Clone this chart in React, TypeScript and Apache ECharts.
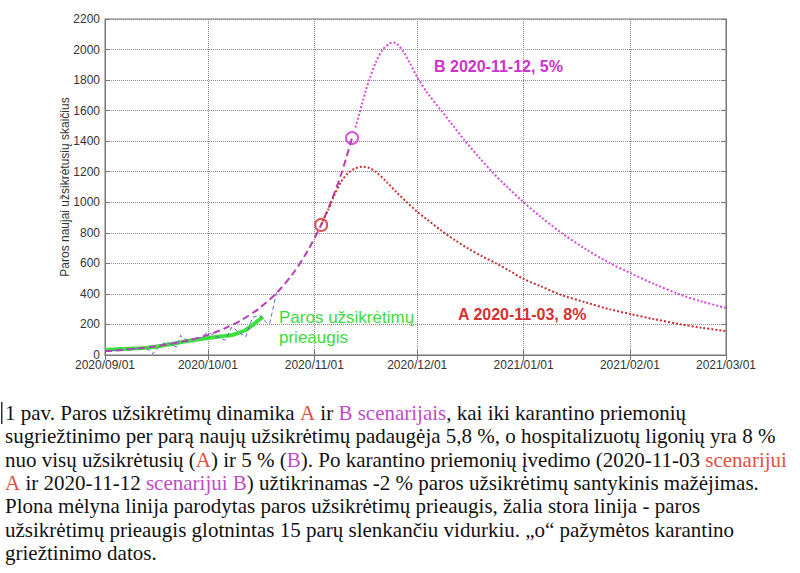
import React, { useEffect, useRef } from 'react';
import * as echarts from 'echarts';

// ---- axis range / ticks ----
const startDate = '2020-09-01';
const endDate = '2021-03-01';
const yMin = 0;
const yMax = 2200;
const yStep = 200;

// ---- thin blue dashed: daily new infections (raw) ----
const rawDates = ['2020-09-01', '2020-09-03', '2020-09-05', '2020-09-07', '2020-09-09', '2020-09-11', '2020-09-13', '2020-09-15', '2020-09-16', '2020-09-18', '2020-09-19', '2020-09-20', '2020-09-22', '2020-09-23', '2020-09-24', '2020-09-25', '2020-09-27', '2020-09-29', '2020-10-01', '2020-10-03', '2020-10-06', '2020-10-08', '2020-10-10', '2020-10-12', '2020-10-14', '2020-10-16', '2020-10-18', '2020-10-19', '2020-10-21'];
const rawValues = [28, 30, 34, 36, 40, 42, 48, 8, 35, 75, 88, 70, 52, 128, 110, 95, 105, 115, 150, 125, 98, 184, 150, 118, 245, 262, 212, 205, 410];

// ---- thick green: 15-day moving average ----
const maDates = ['2020-09-01', '2020-09-04', '2020-09-08', '2020-09-12', '2020-09-15', '2020-09-18', '2020-09-22', '2020-09-26', '2020-10-01', '2020-10-05', '2020-10-08', '2020-10-10', '2020-10-12', '2020-10-14', '2020-10-16', '2020-10-17'];
const maValues = [35, 37, 41, 45, 52, 63, 79, 95, 112, 123, 131, 145, 164, 195, 232, 250];

// ---- magenta dashed: growth before quarantine ----
const growDates = ['2020-09-01', '2020-09-06', '2020-09-11', '2020-09-16', '2020-09-21', '2020-09-26', '2020-10-01', '2020-10-06', '2020-10-11', '2020-10-16', '2020-10-21', '2020-10-26', '2020-10-30', '2020-11-03', '2020-11-06', '2020-11-09', '2020-11-12'];
const growValues = [25, 33, 44, 58, 77, 100, 132, 175, 232, 307, 405, 540, 680, 852, 1010, 1195, 1421];

// ---- scenario A (red dotted) ----
const aDates = ['2020-11-03', '2020-11-05', '2020-11-07', '2020-11-09', '2020-11-11', '2020-11-13', '2020-11-15', '2020-11-17', '2020-11-19', '2020-11-22', '2020-11-25', '2020-11-28', '2020-12-01', '2020-12-04', '2020-12-08', '2020-12-12', '2020-12-16', '2020-12-20', '2020-12-24', '2020-12-28', '2021-01-01', '2021-01-06', '2021-01-12', '2021-01-19', '2021-01-26', '2021-02-01', '2021-02-08', '2021-02-16', '2021-02-22', '2021-03-01'];
const aValues = [852, 950, 1055, 1140, 1195, 1222, 1233, 1225, 1198, 1135, 1065, 1000, 938, 885, 815, 752, 695, 645, 600, 550, 498, 450, 393, 345, 300, 269, 235, 200, 178, 157];

// ---- scenario B (magenta dotted) ----
const bDates = ['2020-11-13', '2020-11-14', '2020-11-15', '2020-11-16', '2020-11-17', '2020-11-19', '2020-11-21', '2020-11-23', '2020-11-24', '2020-11-25', '2020-11-27', '2020-11-29', '2020-12-01', '2020-12-04', '2020-12-08', '2020-12-11', '2020-12-15', '2020-12-19', '2020-12-23', '2020-12-27', '2021-01-01', '2021-01-06', '2021-01-12', '2021-01-19', '2021-01-26', '2021-02-01', '2021-02-08', '2021-02-16', '2021-02-22', '2021-03-01'];
const bValues = [1490, 1570, 1650, 1730, 1800, 1920, 2000, 2040, 2046, 2040, 1985, 1905, 1820, 1715, 1600, 1515, 1400, 1295, 1195, 1105, 1000, 905, 800, 695, 603, 538, 465, 393, 350, 308];

// ---- quarantine dates ("o") ----
const quarantineA = ['2020-11-03', 852];
const quarantineB = ['2020-11-12', 1421];

// ---- texts ----
const yAxisName = 'Paros naujai užsikrėtusių skaičius';
const labelB = 'B 2020-11-12, 5%';
const labelA = 'A 2020-11-03, 8%';
const labelGreen = ['Paros užsikrėtimų', 'prieaugis'];
const captionLines = [
  '1 pav. Paros užsikrėtimų dinamika {r|A} ir {p|B scenarijais}, kai iki karantino priemonių',
  'sugriežtinimo per parą naujų užsikrėtimų padaugėja 5,8 %, o hospitalizuotų ligonių yra 8 %',
  'nuo visų užsikrėtusių ({r|A}) ir 5 % ({p|B}). Po karantino priemonių įvedimo (2020-11-03 {r|scenarijui}',
  '{r|A} ir 2020-11-12 {p|scenarijui B}) užtikrinamas -2 % paros užsikrėtimų santykinis mažėjimas.',
  'Plona mėlyna linija parodytas paros užsikrėtimų prieaugis, žalia stora linija - paros',
  'užsikrėtimų prieaugis glotnintas 15 parų slenkančiu vidurkiu. „o“ pažymėtos karantino',
  'griežtinimo datos.',
];

function buildDays(start: string, end: string): string[] {
  const out: string[] = [];
  const d = new Date(start + 'T00:00:00Z');
  const e = new Date(end + 'T00:00:00Z');
  while (d.getTime() <= e.getTime()) {
    out.push(d.toISOString().slice(0, 10));
    d.setUTCDate(d.getUTCDate() + 1);
  }
  return out;
}

const zip = (xs: string[], ys: number[]) => xs.map((x, i) => [x, ys[i]]);

export default function App() {
  const ref = useRef<HTMLDivElement>(null);

  useEffect(() => {
    if (!ref.current) return;
    const chart = echarts.init(ref.current, null, { renderer: 'svg' });
    const days = buildDays(startDate, endDate);
    const isMonthStart = (_i: number, v: string) => String(v).slice(8) === '01';
    const sans = 'Arial, Liberation Sans, sans-serif';
    const serif = 'Liberation Serif, Times New Roman, serif';
    const capSize = 21;
    const gridLine = { show: true, lineStyle: { color: '#8a8a8a', type: 'dotted' as const, width: 1 } };

    const captionRich = {
      r: { fill: '#e4503e', fontSize: capSize, fontFamily: serif },
      p: { fill: '#c04cc8', fontSize: capSize, fontFamily: serif },
    };

    const option: any = {
      animation: false,
      backgroundColor: '#ffffff',
      grid: {
        left: 105,
        right: 74,
        top: 19,
        bottom: 218,
        show: true,
        borderColor: '#777',
        borderWidth: 1,
      },
      xAxis: [
        {
          type: 'category',
          data: days,
          boundaryGap: false,
          axisLine: { show: true, lineStyle: { color: '#777' } },
          axisTick: { show: true, inside: true, length: 5, interval: isMonthStart, lineStyle: { color: '#777' } },
          axisLabel: {
            show: true,
            interval: isMonthStart,
            formatter: (v: string) => v.replace(/-/g, '/'),
            color: '#333',
            fontSize: 12,
            fontFamily: sans,
            margin: 4,
          },
          splitLine: { ...gridLine, interval: isMonthStart },
        },
        {
          type: 'category',
          data: days,
          boundaryGap: false,
          position: 'top',
          axisLine: { show: true, lineStyle: { color: '#777' } },
          axisTick: { show: true, inside: true, length: 5, interval: isMonthStart, lineStyle: { color: '#777' } },
          axisLabel: { show: false },
          splitLine: { show: false },
        },
      ],
      yAxis: [
        {
          type: 'value',
          min: yMin,
          max: yMax,
          interval: yStep,
          name: yAxisName,
          nameLocation: 'middle',
          nameGap: 34,
          nameMoveOverlap: false,
          nameTextStyle: { color: '#333', fontSize: 12, fontFamily: sans },
          axisLine: { show: true, lineStyle: { color: '#777' } },
          axisTick: { show: true, inside: true, length: 5, lineStyle: { color: '#777' } },
          axisLabel: { color: '#333', fontSize: 12, fontFamily: sans, margin: 5, formatter: (v: number) => String(v) },
          splitLine: gridLine,
        },
        {
          type: 'value',
          min: yMin,
          max: yMax,
          interval: yStep,
          position: 'right',
          axisLine: { show: true, lineStyle: { color: '#777' } },
          axisTick: { show: true, inside: true, length: 5, lineStyle: { color: '#777' } },
          axisLabel: { show: false },
          splitLine: { show: false },
        },
      ],
      series: [
        {
          name: 'Glotnintas prieaugis',
          type: 'line',
          data: zip(maDates, maValues),
          symbol: 'none',
          smooth: 0.3,
          lineStyle: { color: '#3ee03e', width: 4 },
          z: 2,
        },
        {
          name: 'Paros prieaugis',
          type: 'line',
          data: zip(rawDates, rawValues),
          symbol: 'none',
          lineStyle: { color: '#5868c8', width: 1, type: [4, 3] },
          z: 3,
        },
        {
          name: 'Augimas',
          type: 'line',
          data: zip(growDates, growValues),
          symbol: 'none',
          smooth: 0.3,
          lineStyle: { color: '#b83cb8', width: 2, type: [7, 4] },
          z: 4,
        },
        {
          name: 'A',
          type: 'line',
          data: zip(aDates, aValues),
          symbol: 'none',
          smooth: 0.3,
          lineStyle: { color: '#c43434', width: 2, type: 'dotted' },
          z: 4,
        },
        {
          name: 'B',
          type: 'line',
          data: zip(bDates, bValues),
          symbol: 'none',
          smooth: 0.3,
          lineStyle: { color: '#d84ad8', width: 2, type: 'dotted' },
          z: 4,
        },
        {
          name: 'Karantinas A',
          type: 'scatter',
          data: [quarantineA],
          symbol: 'circle',
          symbolSize: 12,
          itemStyle: { color: 'rgba(0,0,0,0)', borderColor: '#d42a2a', borderWidth: 2 },
          z: 5,
        },
        {
          name: 'Karantinas B',
          type: 'scatter',
          data: [quarantineB],
          symbol: 'circle',
          symbolSize: 12,
          itemStyle: { color: 'rgba(0,0,0,0)', borderColor: '#cc2ccc', borderWidth: 2 },
          z: 5,
        },
      ],
      graphic: [
        {
          type: 'text',
          x: 434,
          y: 66,
          style: { text: labelB, fill: '#cc33cc', fontSize: 16, fontWeight: 'bold', fontFamily: sans, align: 'left', verticalAlign: 'middle' },
          z: 10,
        },
        {
          type: 'text',
          x: 458,
          y: 314,
          style: { text: labelA, fill: '#d63232', fontSize: 16, fontWeight: 'bold', fontFamily: sans, align: 'left', verticalAlign: 'middle' },
          z: 10,
        },
        ...labelGreen.map((t, i) => ({
          type: 'text',
          x: 279,
          y: 317 + i * 20,
          style: { text: t, fill: '#3cdc3c', fontSize: 17, fontFamily: sans, align: 'left', verticalAlign: 'middle' },
          z: 10,
        })),
        {
          type: 'rect',
          shape: { x: 1, y: 402, width: 1.5, height: 22 },
          style: { fill: '#333' },
        },
        ...captionLines.map((t, i) => ({
          type: 'text',
          x: 5,
          y: 413 + i * 23.3,
          style: {
            text: t,
            fill: '#111',
            fontSize: capSize,
            fontFamily: serif,
            align: 'left',
            verticalAlign: 'middle',
            rich: captionRich,
          },
        })),
      ],
    };

    chart.setOption(option);
    return () => chart.dispose();
  }, []);

  return <div ref={ref} style={{ position: 'absolute', left: 0, top: 0, width: 800, height: 573 }} />;
}
